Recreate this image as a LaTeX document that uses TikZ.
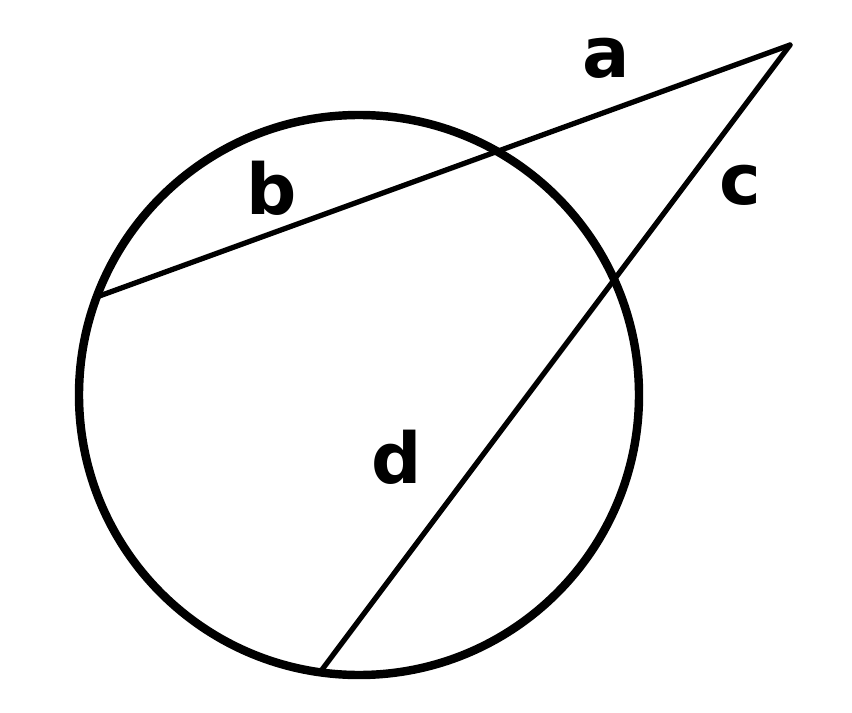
\documentclass[tikz,border=0pt]{standalone}
\usepackage{fontspec}
\setmainfont{DejaVu Sans}
\usetikzlibrary{calc}
\tikzset{
  rim/.style={line width=4.8pt},
  secant/.style={line width=3pt, line cap=round},
  lbl/.style={font=\fontsize{40}{44}\selectfont\bfseries, inner sep=0pt}
}

\begin{document}
\begin{tikzpicture}[x=0.02cm, y=-0.02cm]
  \useasboundingbox (0,0) rectangle (852,713);
  \coordinate (O) at (359,395);
  \coordinate (P) at (790,45);
  \coordinate (left) at ($(O)+(200.5:280)$);
  \coordinate (bottom) at ($(O)+(98:280)$);

  \draw[rim] (O) circle (280);
  \draw[secant] (P) -- (left);
  \draw[secant] (P) -- (bottom);

  \node (a) [lbl] at (606,58) {a};
  \node (b) [lbl] at (272,188) {b};
  \node (c) [lbl] at (740,185) {c};
  \node (d) [lbl] at (397,457) {d};
\end{tikzpicture}
\end{document}
